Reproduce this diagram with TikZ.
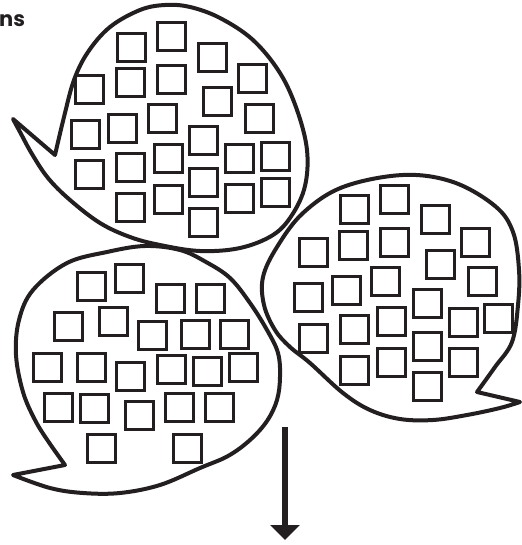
\documentclass[tikz,border=0pt]{standalone}
\usepackage{fontspec}
\newfontfamily\popfont{Poppins}
\usetikzlibrary{arrows.meta}
\definecolor{ink}{HTML}{231F20}
\tikzset{
  bub/.style={draw=ink, line width=4pt, line join=round},
  sq/.style={draw=ink, line width=2.6pt},
  arr/.style={draw=ink, line width=5.5pt, -{Triangle[width=29pt,length=15pt]}},
  lbl/.style={text=ink, inner sep=0pt, font=\popfont\bfseries\fontsize{21}{21}\selectfont}
}
\begin{document}
\begin{tikzpicture}[x=1pt,y=-1pt]
\useasboundingbox (0,0) rectangle (521,545);
% label
\node[lbl, anchor=base west] (lab) at (-1,27) {ns};
% top bubble
\draw[bub] (13,119) -- (55,155) -- plot[smooth, tension=0.6] coordinates {
  (55,155) (64,117) (74,80) (88,52) (110,27) (140,10) (165,5) (190,7) (220,18)
  (253,40) (280,73) (297,110) (307,150) (305,186) (292,215) (273,235) (240,248)
  (200,251) (160,245) (130,237) (100,223) (70,200) (48,178) (32,154) (20,132) (13,119)} -- cycle;
% bottom-left bubble
\draw[bub] (13,475) -- (65,465) -- plot[smooth, tension=0.6] coordinates {
  (65,465) (48,441) (35,420) (23,392) (16,355) (19,320) (33,290) (67,263) (107,252)
  (145,246) (180,250) (206,262) (230,278) (250,303) (267,330) (278,353) (280,377)
  (277,400) (267,421) (250,440) (228,456) (200,468) (160,485) (120,493) (83,493)
  (50,488) (13,475)} -- cycle;
% right bubble
\draw[bub] (520,402) -- (477,392) -- plot[smooth, tension=0.6] coordinates {
  (477,392) (495,367) (512,342) (518,305) (519,270) (513,232) (495,206) (453,182)
  (403,175) (343,187) (303,213) (277,247) (263,277) (264,305) (275,330) (290,347)
  (310,363) (343,393) (370,410) (400,419) (433,420) (467,415) (500,408) (520,402)} -- cycle;
% squares
\foreach \x/\y in {116/32,156/21,197/42,237/63,74/74,115/67,156/64,202/86,244/103,
  147/103,107/113,70/119,188/125,153/143,224/143,260/141,115/152,74/159,188/167,
  153/184,224/183,260/177,115/192,188/207,
  76/271,114/263,155/283,195/283,53/311,98/306,137/320,180/319,219/319,32/352,
  76/352,115/361,156/354,192/356,228/352,43/392,79/393,124/400,164/392,204/392,
  86/433,172/433,
  339/194,379/184,420/204,460/227,298/237,338/230,379/227,425/249,467/266,370/266,
  331/275,293/282,412/288,376/306,448/307,483/303,339/314,298/323,412/331,376/347,
  448/347,339/355,412/371}
  \draw[sq] (\x+1.3,\y+1.3) rectangle ++(28.4,28.4);
% arrow
\coordinate (aS) at (285,427);
\coordinate (aE) at (285,540);
\draw[arr] (aS) -- (aE);
\end{tikzpicture}
\end{document}
